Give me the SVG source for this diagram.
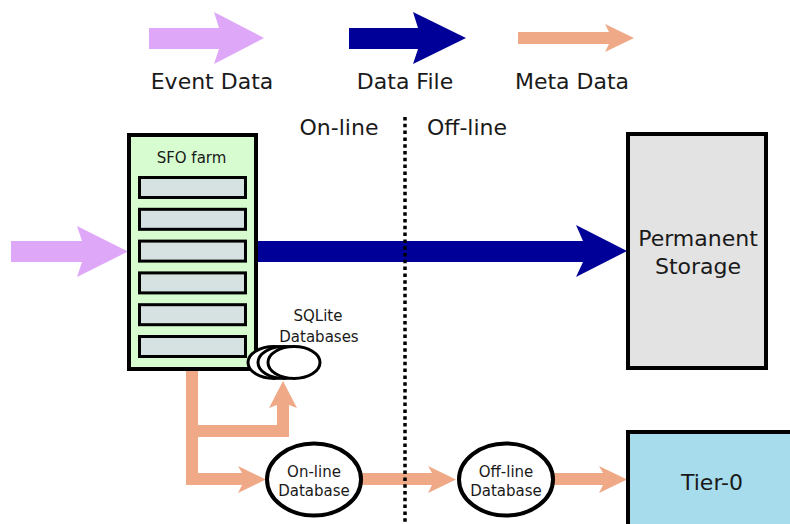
<svg xmlns="http://www.w3.org/2000/svg" width="790" height="524" viewBox="0 0 790 524">
<style>
text{font-family:"DejaVu Sans","Liberation Sans",sans-serif;fill:#1a1a1a;text-anchor:middle}
.big{font-size:22px}
.sm{font-size:15px}
.ev{fill:#dea7f7}
.df{fill:#000099}
.md{fill:#efa987}
.box{stroke:#000;stroke-width:4}
.slot{fill:#d6e1e1;stroke:#000;stroke-width:3}
.ell{fill:#fff;stroke:#000;stroke-width:4}
.sq{fill:#fff;stroke:#000;stroke-width:3}
</style>
<rect width="790" height="524" fill="#fff"/>
<g id="legend">
<polygon class="ev" points="149,28 219,28 214,12 264,38 214,64 219,49 149,49"/>
<polygon class="df" points="349,28 418,28 413,12 466,38 413,64 418,49 349,49"/>
<polygon class="md" points="518,32 609,32 605,24 634,38 605,52 609,44 518,44"/>
<text class="big" x="212" y="89">Event Data</text>
<text class="big" x="405" y="89">Data File</text>
<text class="big" x="572" y="89">Meta Data</text>
</g>
<g id="section-labels">
<text class="big" x="339" y="135">On-line</text>
<text class="big" x="467" y="135">Off-line</text>
</g>
<g id="connectors">
<polygon class="ev" points="11,241 82,241 77,226 128,251.5 77,277 82,262 11,262"/>
<polygon class="df" points="258,241 583,241 576,225 627,251 576,277 583,262 258,262"/>
<polygon class="md" points="186,371 198,371 198,425 277,425 277,405 269,408 283,381 297,408 289,405 289,437 198,437 198,473 242,473 238,466 266,479.5 238,493 242,485 186,485"/>
<polygon class="md" points="361,473 432,473 428,466 456,479.5 428,493 432,485 361,485"/>
<polygon class="md" points="553,473 603,473 599,466 627,479.5 599,493 603,485 553,485"/>
</g>
<line x1="405" y1="117" x2="405" y2="524" stroke="#000" stroke-width="3.5" stroke-dasharray="3.5 3.3"/>
<g id="sfo-farm">
<rect class="box" x="129" y="135" width="127" height="234" fill="#d6fcd0"/>
<text class="sm" x="191.5" y="162.5">SFO farm</text>
<rect class="slot" x="139.5" y="177.5" width="106" height="20"/>
<rect class="slot" x="139.5" y="209.3" width="106" height="20"/>
<rect class="slot" x="139.5" y="241.1" width="106" height="20"/>
<rect class="slot" x="139.5" y="272.9" width="106" height="20"/>
<rect class="slot" x="139.5" y="304.7" width="106" height="20"/>
<rect class="slot" x="139.5" y="336.5" width="106" height="20"/>
</g>
<g id="sqlite">
<ellipse class="sq" cx="274" cy="362.5" rx="26" ry="16"/>
<ellipse class="sq" cx="284" cy="362.5" rx="26" ry="16"/>
<ellipse class="sq" cx="294" cy="362.5" rx="26" ry="16"/>
<text class="sm" x="318" y="321">SQLite</text>
<text class="sm" x="319" y="342">Databases</text>
</g>
<g id="permanent-storage">
<rect class="box" x="628" y="134" width="138" height="234" fill="#e3e3e3"/>
<text class="big" x="698" y="246">Permanent</text>
<text class="big" x="698" y="274">Storage</text>
</g>
<g id="online-db">
<ellipse class="ell" cx="314" cy="479.5" rx="47" ry="36"/>
<text class="sm" x="314" y="477">On-line</text>
<text class="sm" x="314" y="496">Database</text>
</g>
<g id="offline-db">
<ellipse class="ell" cx="506" cy="479.5" rx="47" ry="36"/>
<text class="sm" x="506" y="477">Off-line</text>
<text class="sm" x="506" y="496">Database</text>
</g>
<g id="tier0">
<rect class="box" x="628" y="432" width="200" height="120" fill="#a6dcec"/>
<text class="big" x="712" y="490">Tier-0</text>
</g>
</svg>
